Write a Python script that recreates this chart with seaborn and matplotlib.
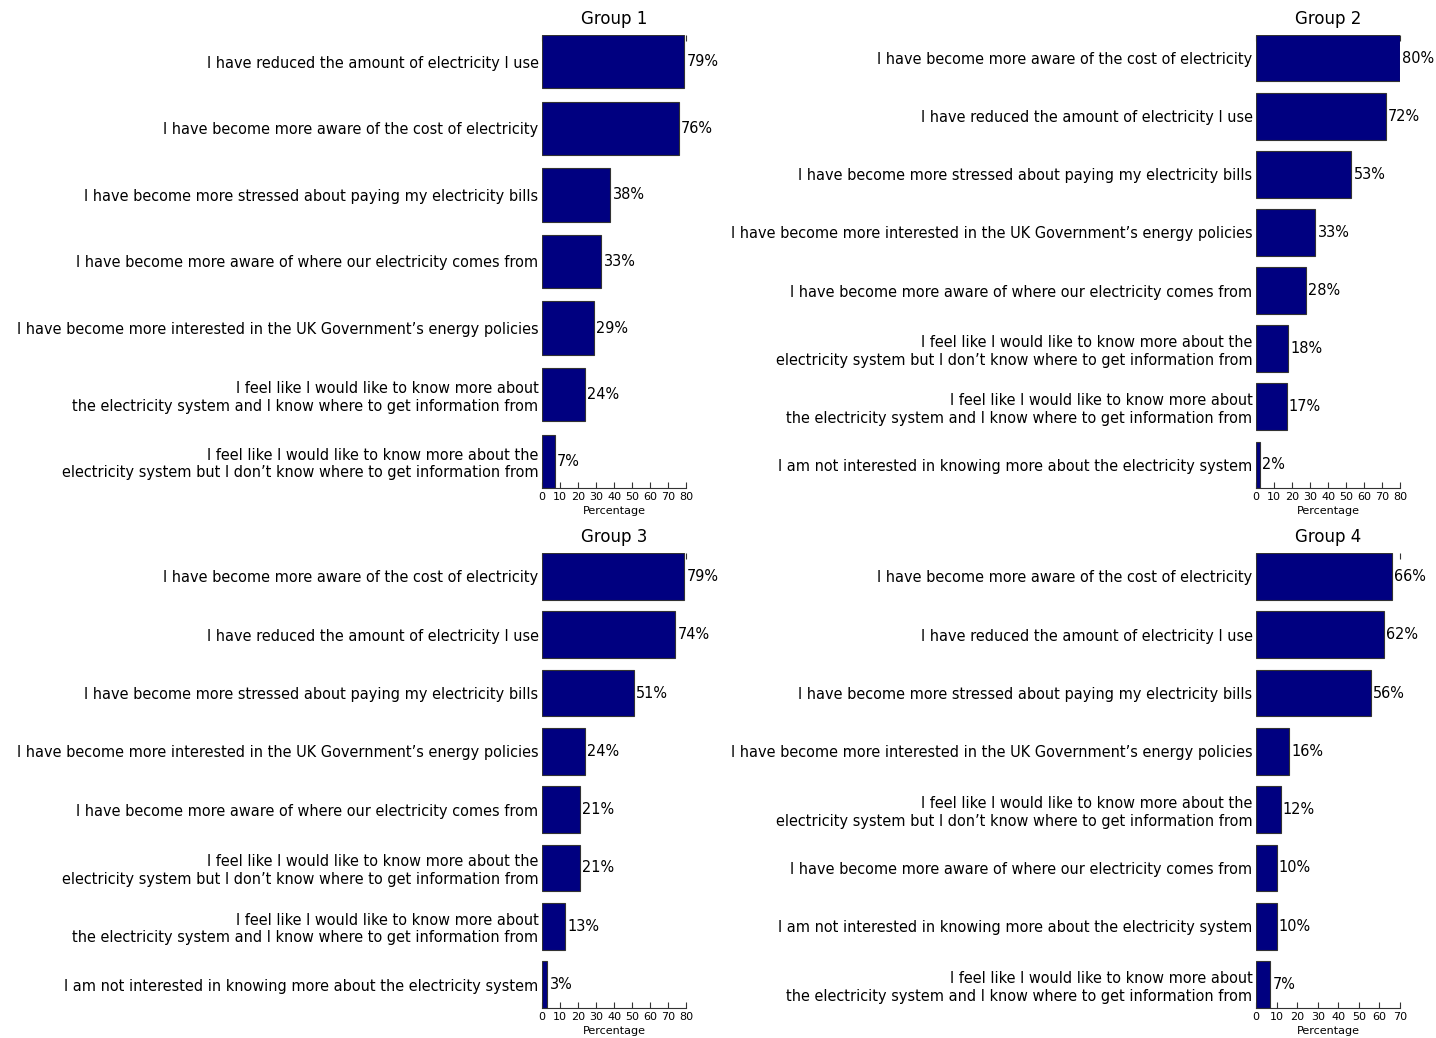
import matplotlib
matplotlib.use("Agg")
import matplotlib.pyplot as plt
import seaborn as sns
import pandas as pd

sns.set_style("white")
plt.rcParams['font.family'] = ['DejaVu Sans']
plt.rcParams['text.color'] = 'black'
plt.rcParams['axes.labelcolor'] = 'black'
plt.rcParams['xtick.color'] = 'black'
plt.rcParams['ytick.color'] = 'black'

g1_labels = [
    "I have reduced the amount of electricity I use",
    "I have become more aware of the cost of electricity",
    "I have become more stressed about paying my electricity bills",
    "I have become more aware of where our electricity comes from",
    "I have become more interested in the UK Government\u2019s energy policies",
    "I feel like I would like to know more about\nthe electricity system and I know where to get information from",
    "I feel like I would like to know more about the\nelectricity system but I don\u2019t know where to get information from",
]
g1_values = [79, 76, 38, 33, 29, 24, 7]

g2_labels = [
    "I have become more aware of the cost of electricity",
    "I have reduced the amount of electricity I use",
    "I have become more stressed about paying my electricity bills",
    "I have become more interested in the UK Government\u2019s energy policies",
    "I have become more aware of where our electricity comes from",
    "I feel like I would like to know more about the\nelectricity system but I don\u2019t know where to get information from",
    "I feel like I would like to know more about\nthe electricity system and I know where to get information from",
    "I am not interested in knowing more about the electricity system",
]
g2_values = [80, 72, 53, 33, 28, 18, 17, 2]

g3_labels = [
    "I have become more aware of the cost of electricity",
    "I have reduced the amount of electricity I use",
    "I have become more stressed about paying my electricity bills",
    "I have become more interested in the UK Government\u2019s energy policies",
    "I have become more aware of where our electricity comes from",
    "I feel like I would like to know more about the\nelectricity system but I don\u2019t know where to get information from",
    "I feel like I would like to know more about\nthe electricity system and I know where to get information from",
    "I am not interested in knowing more about the electricity system",
]
g3_values = [79, 74, 51, 24, 21, 21, 13, 3]

g4_labels = [
    "I have become more aware of the cost of electricity",
    "I have reduced the amount of electricity I use",
    "I have become more stressed about paying my electricity bills",
    "I have become more interested in the UK Government\u2019s energy policies",
    "I feel like I would like to know more about the\nelectricity system but I don\u2019t know where to get information from",
    "I have become more aware of where our electricity comes from",
    "I am not interested in knowing more about the electricity system",
    "I feel like I would like to know more about\nthe electricity system and I know where to get information from",
]
g4_values = [66, 62, 56, 16, 12, 10, 10, 7]

groups = [
    ("Group 1", g1_labels, g1_values, 80),
    ("Group 2", g2_labels, g2_values, 80),
    ("Group 3", g3_labels, g3_values, 80),
    ("Group 4", g4_labels, g4_values, 70),
]

W, H = 1436, 1038
fig = plt.figure(figsize=(W / 100, H / 100), dpi=100)

# axes boxes in pixels: left, right, top, bottom
boxes = [
    (542, 686, 35, 488),
    (1256, 1400, 35, 488),
    (542, 686, 553, 1008),
    (1256, 1400, 553, 1008),
]

for (title, labels, values, xmax), (l, r, t, b) in zip(groups, boxes):
    ax = fig.add_axes([l / W, 1 - b / H, (r - l) / W, (b - t) / H])
    df = pd.DataFrame({"label": labels, "value": values})
    sns.barplot(data=df, y="label", x="value", orient="h", ax=ax,
                color="#000080", saturation=1, width=0.8,
                edgecolor="#333333", linewidth=0.8)
    n = len(labels)
    ax.set_ylim(n - 0.6, -0.4)
    ax.set_xlim(0, xmax)
    ax.set_xticks(list(range(0, xmax + 1, 10)))
    ax.tick_params(axis="x", direction="in", top=True, bottom=True,
                   length=4, width=0.8, labelsize=8, pad=3, color="#333333")
    ax.tick_params(axis="y", length=0, labelsize=10.45, pad=2.5)
    ax.set_xlabel("Percentage", fontsize=8, labelpad=3)
    ax.set_ylabel("")
    ax.set_title(title, fontsize=12, pad=8)
    for s in ["top", "right", "left"]:
        ax.spines[s].set_visible(False)
    ax.spines["bottom"].set_color("#333333")
    ax.spines["bottom"].set_linewidth(0.8)
    for c in ax.containers:
        ax.bar_label(c, labels=[f"{v}%" for v in values], padding=1.5, fontsize=10.45)

fig.savefig("out.png", dpi=100)
